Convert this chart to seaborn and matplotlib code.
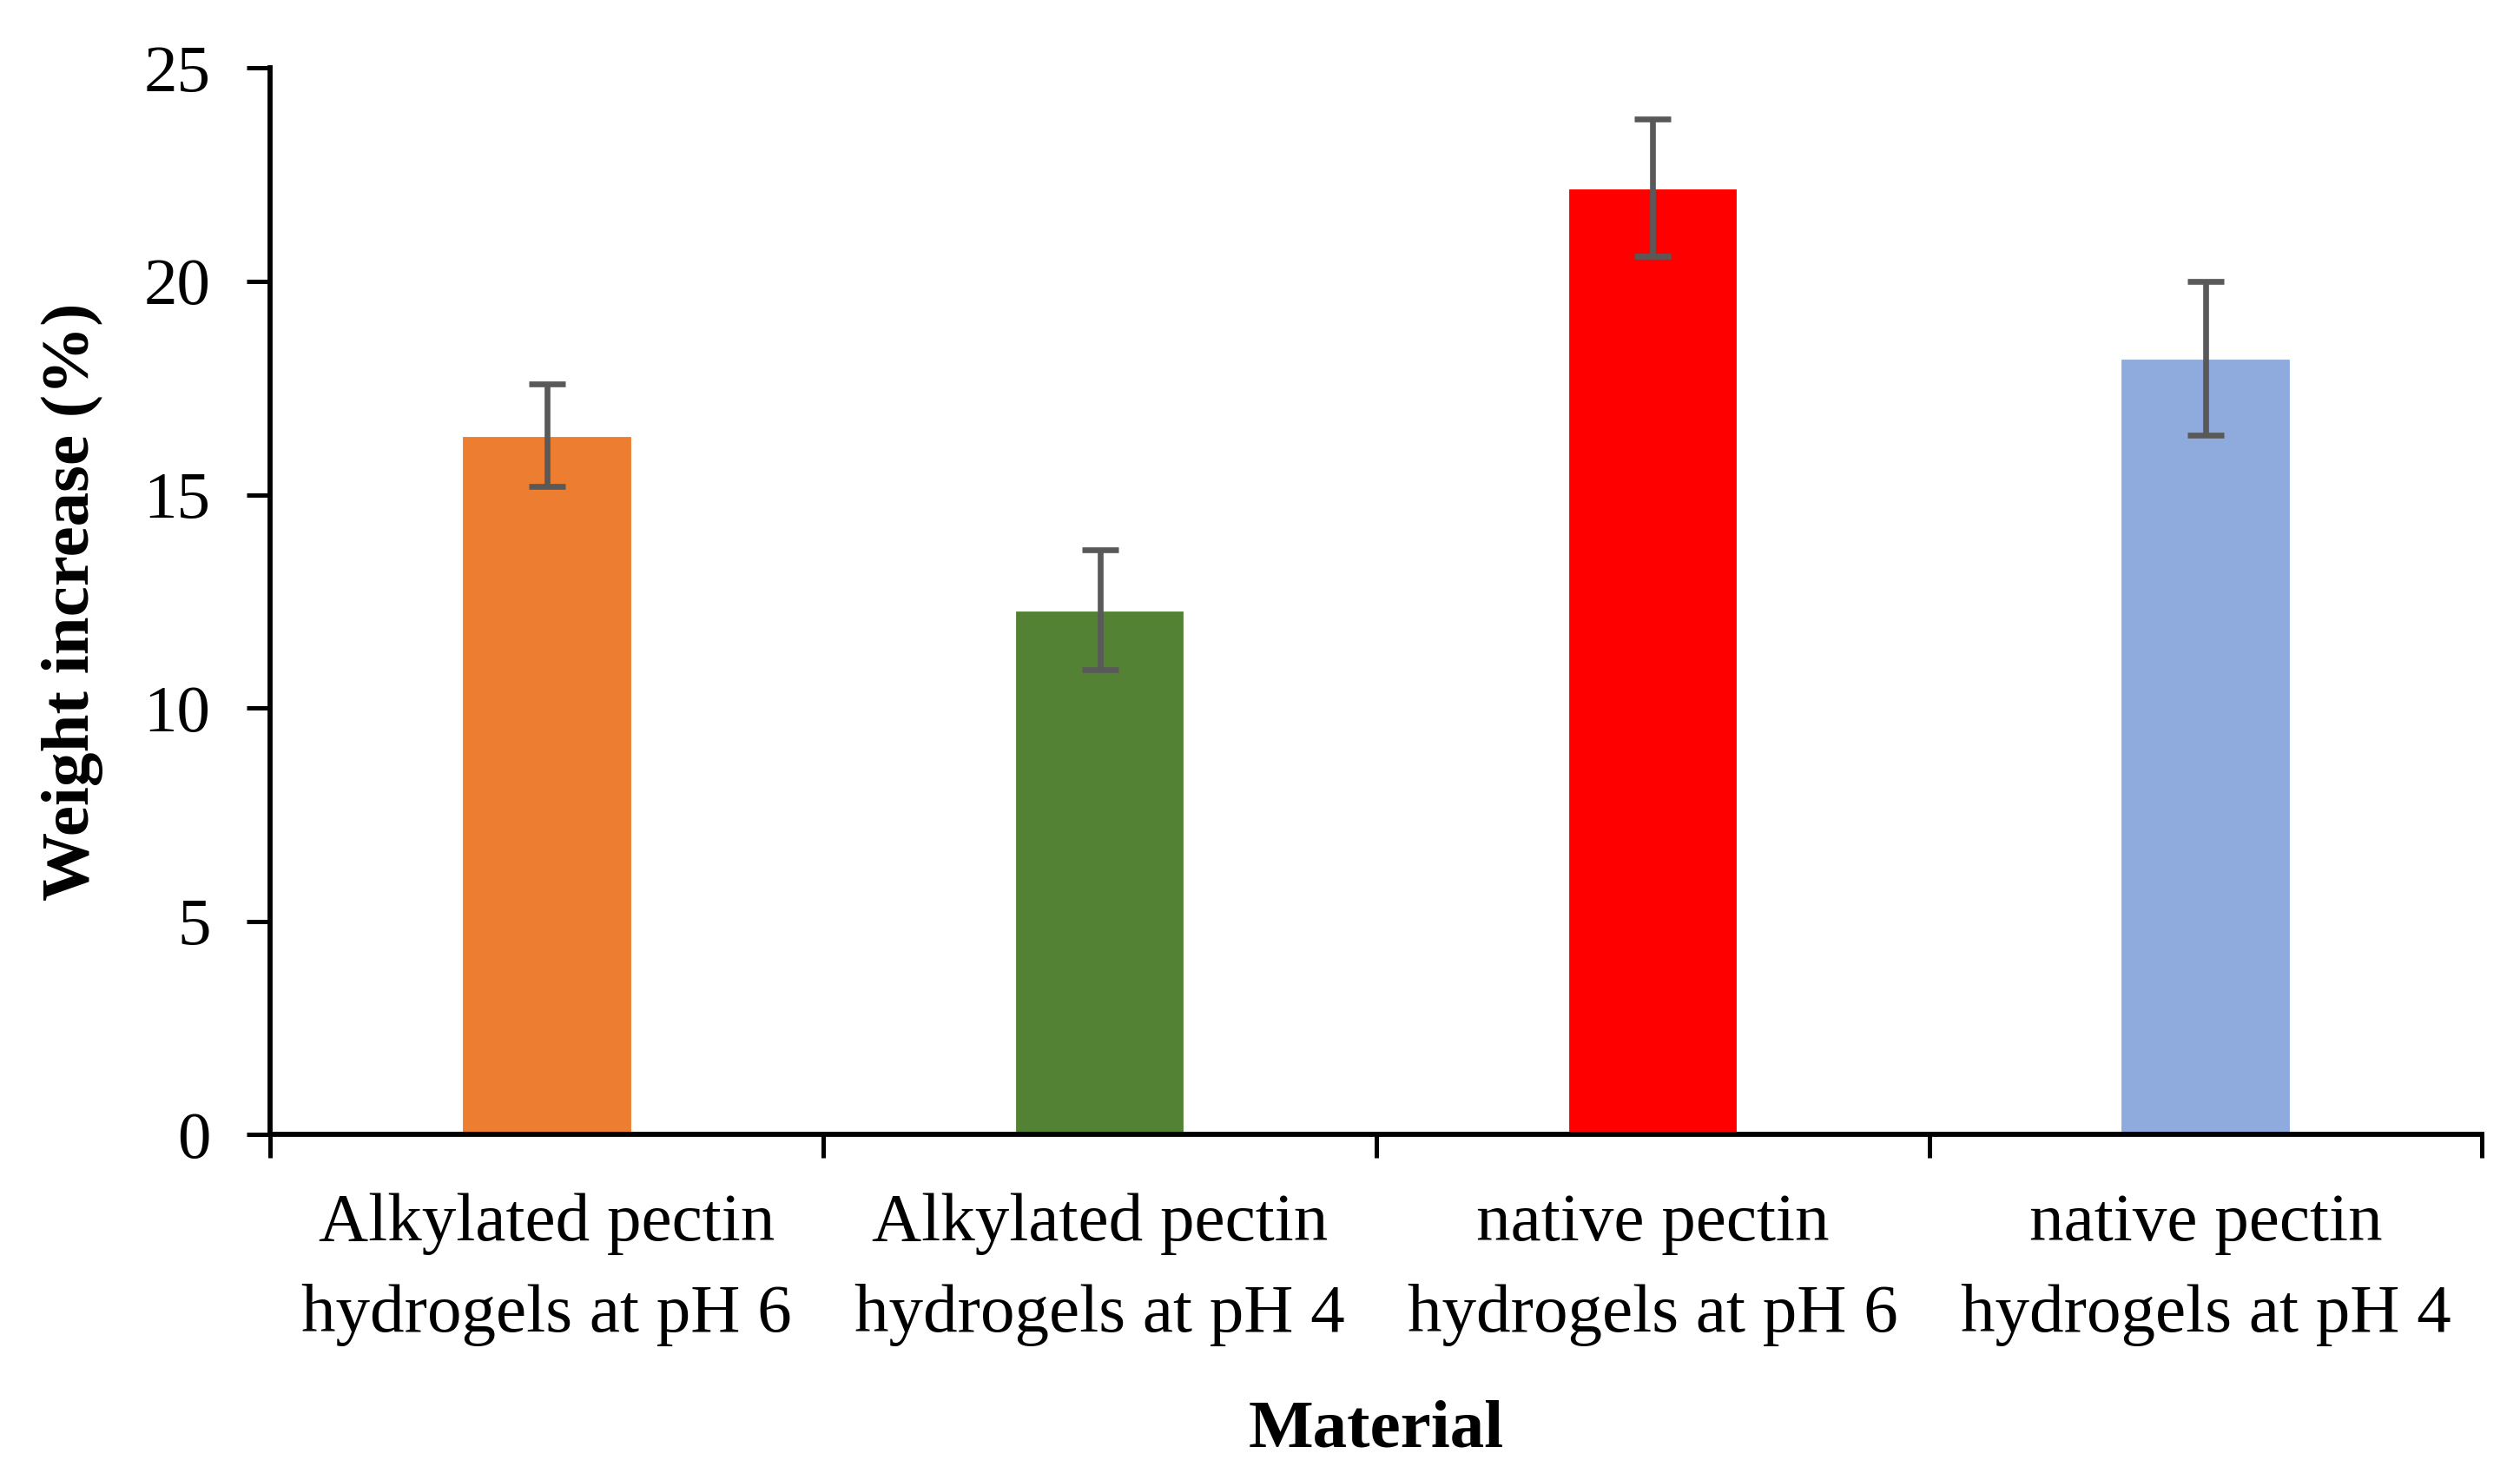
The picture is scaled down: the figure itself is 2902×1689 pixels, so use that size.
import matplotlib
matplotlib.use("Agg")
import matplotlib.pyplot as plt
import seaborn as sns
import pandas as pd
from matplotlib.ticker import FixedLocator, NullFormatter

# data
materials = [
    "Alkylated pectin\nhydrogels at pH 6",
    "Alkylated pectin\nhydrogels at pH 4",
    "native pectin\nhydrogels at pH 6",
    "native pectin\nhydrogels at pH 4",
]
weight_increase = [16.4, 12.3, 22.2, 18.2]
errors = [1.2, 1.4, 1.6, 1.8]
bar_colors = ["#ED7D31", "#548235", "#FF0000", "#8FAADC"]

df = pd.DataFrame({"Material": materials, "Weight": weight_increase})

sns.set_style("white")
plt.rcParams["font.family"] = ["Liberation Serif", "DejaVu Serif"]
plt.rcParams["text.color"] = "black"
plt.rcParams["axes.labelcolor"] = "black"
plt.rcParams["xtick.color"] = "black"
plt.rcParams["ytick.color"] = "black"

fig, ax = plt.subplots(figsize=(2903 / 300, 1689 / 300), dpi=300)
fig.subplots_adjust(left=0.1073, right=0.9846, bottom=0.2265, top=0.9536)

sns.barplot(data=df, x="Material", y="Weight", hue="Material",
            palette=bar_colors, width=0.31, legend=False, ax=ax,
            saturation=1)
ax.errorbar(range(len(materials)), weight_increase, yerr=errors,
            fmt="none", ecolor="#595959", elinewidth=1.6,
            capsize=5, capthick=1.6, zorder=3)

ax.set_xlim(-0.5, len(materials) - 0.5)
ax.set_ylim(0, 25)
ax.set_yticks([0, 5, 10, 15, 20, 25])

# boundary ticks as major, category labels as minor
ax.xaxis.set_major_locator(FixedLocator([i - 0.5 for i in range(len(materials) + 1)]))
ax.xaxis.set_major_formatter(NullFormatter())
ax.xaxis.set_minor_locator(FixedLocator(list(range(len(materials)))))
ax.set_xticklabels(materials, minor=True, fontsize=19, linespacing=1.6)
ax.tick_params(axis="x", which="minor", length=0, pad=16)
ax.tick_params(axis="x", which="major", direction="out", length=6.5,
               width=1.2, color="black", bottom=True)
ax.tick_params(axis="y", direction="out", length=6.5, width=1.2,
               color="black", left=True, labelsize=18.5, pad=10)

for side in ["top", "right"]:
    ax.spines[side].set_visible(False)
for side in ["left", "bottom"]:
    ax.spines[side].set_color("black")
    ax.spines[side].set_linewidth(1.4)

ax.set_xlabel("Material", fontsize=19, fontweight="bold")
ax.set_ylabel("Weight increase (%)", fontsize=19, fontweight="bold")
ax.xaxis.set_label_coords(0.5, -0.248)
ax.yaxis.set_label_coords(-0.0756, 0.5)

fig.savefig("out.png", dpi=300, facecolor="white")
